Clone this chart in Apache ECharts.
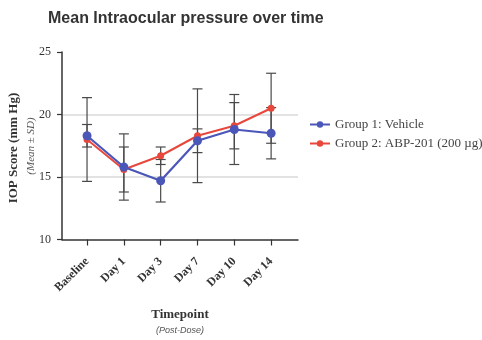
<!DOCTYPE html>
<html>
<head>
<meta charset="utf-8">
<script src="https://cdn.jsdelivr.net/npm/echarts@6/dist/echarts.min.js"></script>
<style>
  html, body { margin: 0; padding: 0; background: #fff; }
  #chart { width: 482px; height: 340px; }
</style>
</head>
<body>
<div id="chart"></div>
<script>
const timepoints = ['Baseline', 'Day 1', 'Day 3', 'Day 7', 'Day 10', 'Day 14']
const vehicleMean = [18.3, 15.8, 14.7, 17.9, 18.8, 18.5]
const vehicleSd = [0.9, 2.65, 1.7, 0.95, 2.8, 2.05]
const abpMean = [18.0, 15.6, 16.7, 18.3, 19.1, 20.5]
const abpSd = [3.35, 1.8, 0.7, 3.75, 1.85, 2.8]
const yTicks = [10, 15, 20, 25]

const blue = '#4b57b8'
const red = '#e8483c'
const serif = '"Liberation Serif", "DejaVu Serif", serif'

const chart = echarts.init(document.getElementById('chart'))

// vertical error bar with caps, mean ± sd
const errorBars = (means, sds) => ({
    type: 'custom',
    silent: true,
    z: 1,
    data: means.map((m, i) => [i, m - sds[i], m + sds[i]]),
    renderItem: (params, api) => {
        const lo = api.coord([api.value(0), api.value(1)])
        const hi = api.coord([api.value(0), api.value(2)])
        const w = 5
        const style = { stroke: '#4a4a4a', lineWidth: 1.2 }
        return {
            type: 'group',
            children: [
                { type: 'line', shape: { x1: lo[0], y1: lo[1], x2: hi[0], y2: hi[1] }, style },
                { type: 'line', shape: { x1: lo[0] - w, y1: lo[1], x2: lo[0] + w, y2: lo[1] }, style },
                { type: 'line', shape: { x1: hi[0] - w, y1: hi[1], x2: hi[0] + w, y2: hi[1] }, style }
            ]
        }
    }
})

chart.setOption({
    animation: false,
    title: {
        text: 'Mean Intraocular pressure over time',
        left: 43,
        top: 6,
        textStyle: { fontFamily: '"Liberation Sans", Arial, sans-serif', fontSize: 16, fontWeight: 'bold', color: '#333' }
    },
    legend: {
        orient: 'vertical',
        left: 304,
        top: 113,
        itemGap: 6,
        itemWidth: 20,
        itemHeight: 8,
        textStyle: { fontFamily: serif, fontSize: 13, color: '#444' },
        data: ['Group 1: Vehicle', 'Group 2: ABP-201 (200 µg)']
    },
    grid: { left: 62, top: 52, right: 184, bottom: 99 },
    xAxis: {
        type: 'value',
        min: -0.68,
        max: 5.73,
        axisLine: { lineStyle: { color: '#333', width: 1.5 } },
        axisTick: { customValues: [0, 1, 2, 3, 4, 5], length: 6, lineStyle: { color: '#333', width: 1.2 } },
        axisLabel: {
            customValues: [0, 1, 2, 3, 4, 5],
            formatter: v => timepoints[Math.round(v)],
            rotate: 45,
            fontFamily: serif,
            fontWeight: 'bold',
            fontSize: 12,
            color: '#333',
            margin: 20
        },
        splitLine: { show: false },
        name: '{a|Timepoint}\n{b|(Post-Dose)}',
        nameLocation: 'middle',
        nameGap: 67,
        nameTextStyle: {
            rich: {
                a: { fontFamily: serif, fontWeight: 'bold', fontSize: 13, color: '#333', lineHeight: 17 },
                b: { fontFamily: '"Liberation Sans", sans-serif', fontStyle: 'italic', fontSize: 9, color: '#555', lineHeight: 14 }
            }
        }
    },
    yAxis: {
        type: 'value',
        min: 10,
        max: 25,
        interval: 5,
        axisLine: { show: true, onZero: false, lineStyle: { color: '#333', width: 1.5 } },
        axisTick: { show: true, length: 5, lineStyle: { color: '#333', width: 1.2 } },
        axisLabel: {
            formatter: v => yTicks.includes(v) ? String(v) : '',
            fontFamily: serif,
            fontSize: 12,
            color: '#333',
            margin: 11
        },
        splitLine: {
            show: true,
            lineStyle: { color: ['rgba(0,0,0,0)', '#e2e2e2', '#e2e2e2', 'rgba(0,0,0,0)'], width: 2 }
        }
    },
    graphic: [
        {
            type: 'text',
            x: 14,
            y: 148,
            rotation: Math.PI / 2,
            style: {
                text: 'IOP Score (mm Hg)',
                font: 'bold 13px ' + serif,
                fill: '#333',
                align: 'center',
                verticalAlign: 'middle'
            }
        },
        {
            type: 'text',
            x: 31,
            y: 146,
            rotation: Math.PI / 2,
            style: {
                text: '(Mean ± SD)',
                font: 'italic 11px ' + serif,
                fill: '#555',
                align: 'center',
                verticalAlign: 'middle'
            }
        }
    ],
    series: [
        errorBars(abpMean, abpSd),
        errorBars(vehicleMean, vehicleSd),
        {
            name: 'Group 2: ABP-201 (200 µg)',
            type: 'line',
            z: 3,
            data: abpMean.map((v, i) => [i, v]),
            symbol: 'circle',
            symbolSize: 7,
            color: red,
            lineStyle: { color: red, width: 2 },
            itemStyle: { color: red }
        },
        {
            name: 'Group 1: Vehicle',
            type: 'line',
            z: 4,
            data: vehicleMean.map((v, i) => [i, v]),
            symbol: 'circle',
            symbolSize: 9,
            color: blue,
            lineStyle: { color: blue, width: 2.2 },
            itemStyle: { color: blue }
        }
    ]
})
</script>
</body>
</html>
